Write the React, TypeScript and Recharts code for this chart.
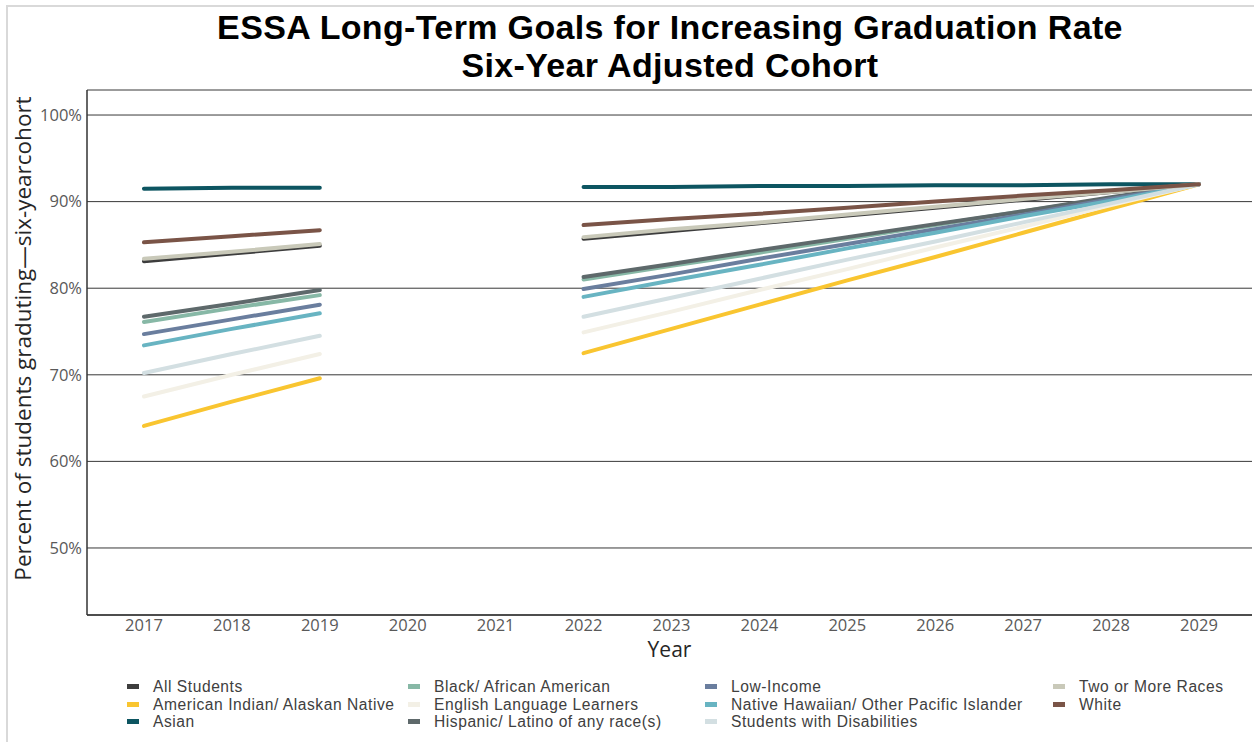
import { LineChart, Line, XAxis, YAxis, CartesianGrid, Legend, Label } from "recharts";

// years on the x axis; 2020 and 2021 have no values (gap in the lines)
const years = [2017, 2018, 2019, 2020, 2021, 2022, 2023, 2024, 2025, 2026, 2027, 2028, 2029];
const yTicks = [50, 60, 70, 80, 90, 100];

// percent graduating, six-year cohort
const allStudents = [83.1, 84.0, 84.9, null, null, 85.7, 86.6, 87.5, 88.4, 89.3, 90.2, 91.1, 92.0];
const americanIndian = [64.1, 66.9, 69.6, null, null, 72.5, 75.3, 78.1, 80.9, 83.6, 86.4, 89.2, 92.0];
const asian = [91.5, 91.6, 91.6, null, null, 91.7, 91.7, 91.8, 91.8, 91.9, 91.9, 92.0, 92.0];
const blackAfricanAmerican = [76.1, 77.7, 79.2, null, null, 81.0, 82.6, 84.1, 85.7, 87.3, 88.9, 90.4, 92.0];
const englishLearners = [67.5, 70.0, 72.4, null, null, 74.9, 77.3, 79.8, 82.2, 84.7, 87.1, 89.6, 92.0];
const hispanicLatino = [76.7, 78.2, 79.8, null, null, 81.3, 82.8, 84.4, 85.9, 87.4, 88.9, 90.5, 92.0];
const lowIncome = [74.7, 76.4, 78.1, null, null, 79.9, 81.6, 83.4, 85.1, 86.8, 88.5, 90.3, 92.0];
const nativeHawaiian = [73.4, 75.3, 77.1, null, null, 79.0, 80.9, 82.7, 84.6, 86.4, 88.3, 90.1, 92.0];
const disabilities = [70.2, 72.4, 74.5, null, null, 76.7, 78.9, 81.1, 83.3, 85.4, 87.6, 89.8, 92.0];
const twoOrMore = [83.4, 84.2, 85.1, null, null, 85.9, 86.8, 87.6, 88.5, 89.4, 90.3, 91.1, 92.0];
const white = [85.3, 86.0, 86.7, null, null, 87.3, 88.0, 88.6, 89.3, 90.0, 90.7, 91.3, 92.0];

const series = [
  { key: "allStudents", name: "All Students", color: "#3d3d3d", values: allStudents },
  { key: "americanIndian", name: "American Indian/ Alaskan Native", color: "#f9c530", values: americanIndian },
  { key: "asian", name: "Asian", color: "#0d5561", values: asian },
  { key: "black", name: "Black/ African American", color: "#87b8a6", values: blackAfricanAmerican },
  { key: "ell", name: "English Language Learners", color: "#f3f0e6", values: englishLearners },
  { key: "hispanic", name: "Hispanic/ Latino of any race(s)", color: "#5e696b", values: hispanicLatino },
  { key: "lowIncome", name: "Low-Income", color: "#6a7e9e", values: lowIncome },
  { key: "nativeHawaiian", name: "Native Hawaiian/ Other Pacific Islander", color: "#68b4c2", values: nativeHawaiian },
  { key: "disabilities", name: "Students with Disabilities", color: "#d3dfe2", values: disabilities },
  { key: "twoOrMore", name: "Two or More Races", color: "#c9c9b9", values: twoOrMore },
  { key: "white", name: "White", color: "#7a5447", values: white },
];

const data = years.map((year, i) => {
  const row: Record<string, number | null> = { year };
  series.forEach((s) => {
    row[s.key] = s.values[i];
  });
  return row;
});

const font = "'Open Sans', 'Noto Sans', sans-serif";
const compactFont = "'Liberation Sans', Arial, sans-serif";
const legendColumns = [127, 408, 705, 1053];

function LegendBlock() {
  return (
    <div
      style={{
        position: "relative",
        width: 1254,
        height: 56,
        fontFamily: compactFont,
        fontSize: 15.6,
        letterSpacing: 0.55,
        color: "#404040",
      }}
    >
      {series.map((s, i) => {
        const col = Math.floor(i / 3);
        const row = i % 3;
        return (
          <div
            key={s.key}
            style={{
              position: "absolute",
              left: legendColumns[col],
              top: row * 17.5,
              height: 17.5,
              display: "flex",
              alignItems: "center",
              whiteSpace: "nowrap",
              lineHeight: "17.5px",
            }}
          >
            <span style={{ display: "inline-block", width: 12, height: 5, background: s.color, marginRight: 14 }} />
            {s.name}
          </div>
        );
      })}
    </div>
  );
}

function YTitle(props: any) {
  const vb = props.viewBox || { x: 27, y: 90, width: 60, height: 525 };
  const x = vb.x - 5;
  const y = vb.y + vb.height / 2 - 14;
  return (
    <text
      x={x}
      y={y}
      transform={`rotate(-90 ${x} ${y})`}
      textAnchor="middle"
      dominantBaseline="central"
      fontSize={22.5}
      fill="#262626"
      fontFamily={font}
    >
      Percent of students graduting—six-yearcohort
    </text>
  );
}

const titleLine = {
  position: "absolute" as const,
  left: 0,
  width: 1340,
  textAlign: "center" as const,
  fontFamily: compactFont,
  fontWeight: 700,
  fontSize: 34,
  letterSpacing: 0.35,
  lineHeight: "38px",
  height: 38,
  color: "#000",
};

export default function App() {
  return (
    <div style={{ position: "absolute", left: 0, top: 0, width: 1254, height: 742, background: "white", overflow: "hidden" }}>
      <div
        style={{
          position: "absolute",
          left: 6,
          top: 5,
          right: 0,
          bottom: 0,
          borderTop: "2px solid #d9d9d9",
          borderLeft: "2px solid #d9d9d9",
        }}
      />
      <div style={{ ...titleLine, top: 8 }}>ESSA Long-Term Goals for Increasing Graduation Rate</div>
      <div style={{ ...titleLine, top: 46 }}>Six-Year Adjusted Cohort</div>
      <div style={{ position: "absolute", left: 0, top: 0 }}>
        <LineChart width={1254} height={742} data={data} margin={{ top: 90, right: 2, left: 27, bottom: 77 }}>
          <CartesianGrid vertical={false} stroke="#383838" strokeWidth={1} />
          <XAxis
            dataKey="year"
            type="number"
            domain={[2016.352, 2029.603]}
            ticks={years}
            interval={0}
            allowDataOverflow
            height={50}
            tickLine={false}
            tickSize={0}
            tickMargin={4}
            axisLine={{ stroke: "#333", strokeWidth: 1.5 }}
            tick={{ fontSize: 16.5, fill: "#595959", fontFamily: font }}
            label={{ value: "Year", position: "insideBottom", offset: 8, style: { fontSize: 21, fill: "#262626", fontFamily: font } }}
          />
          <YAxis
            type="number"
            domain={[42.26, 102.89]}
            ticks={yTicks}
            allowDataOverflow
            width={60}
            tickLine={false}
            tickSize={0}
            tickMargin={5}
            tickFormatter={(v: number) => `${v}%`}
            axisLine={{ stroke: "#333", strokeWidth: 1.5 }}
            tick={{ fontSize: 16.5, fill: "#595959", fontFamily: font }}
          >
            <Label position="insideLeft" content={(p: any) => <YTitle {...p} />} />
          </YAxis>
          <Legend
            layout="horizontal"
            verticalAlign="middle"
            align="center"
            wrapperStyle={{ top: 678, left: 0, width: 1254 }}
            content={() => <LegendBlock />}
          />
          {series.map((s) => (
            <Line
              key={s.key}
              dataKey={s.key}
              name={s.name}
              stroke={s.color}
              strokeWidth={4}
              strokeLinecap="round"
              dot={false}
              activeDot={false}
              isAnimationActive={false}
            />
          ))}
        </LineChart>
      </div>
    </div>
  );
}
